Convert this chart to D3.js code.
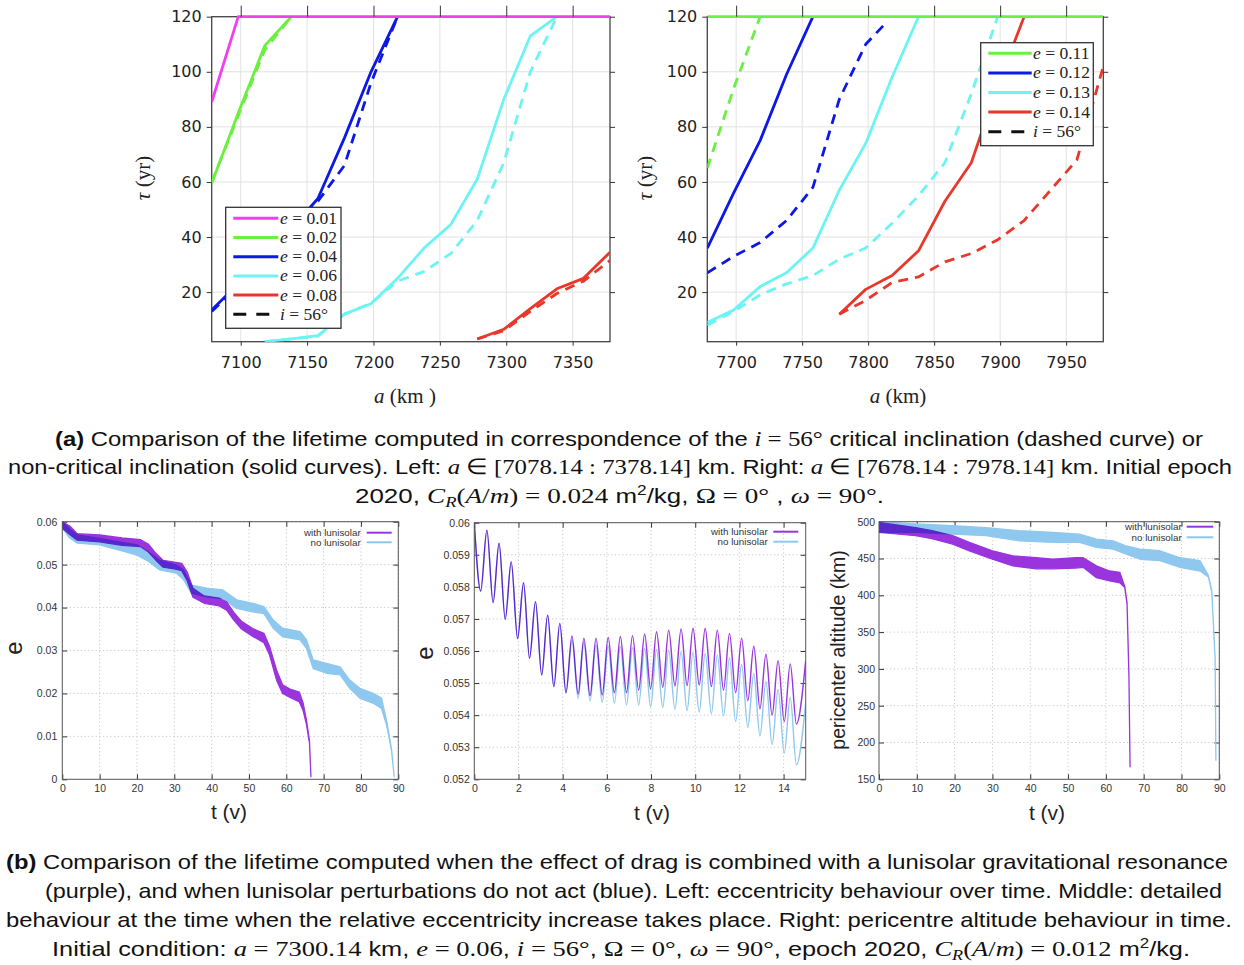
<!DOCTYPE html>
<html>
<head>
<meta charset="utf-8">
<script src="https://cdn.jsdelivr.net/npm/d3@7"></script>
<style>body{margin:0;background:#fff}</style>
</head>
<body>
<div id="chart"></div>
<script>
// ---------- top row : lifetime tau (yr) vs semi-major axis a (km) ----------
var tauTicks = [20, 40, 60, 80, 100, 120];
var aTicksLeft = [7100, 7150, 7200, 7250, 7300, 7350];
var aTicksRight = [7700, 7750, 7800, 7850, 7900, 7950];
var eLeft = ["0.01", "0.02", "0.04", "0.06", "0.08"];
var eRight = ["0.11", "0.12", "0.13", "0.14"];

// [a, tau]  solid = non critical, *_d = i = 56 deg
var e001 = [[7078.14,89],[7098.14,120],[7378.14,120]];
var e002 = [[7078.14,59.5],[7098.14,85],[7118.14,109.5],[7138.14,120]];
var e002_d = [[7078.14,60],[7098.14,84],[7118.14,108],[7138.14,120]];
var e004 = [[7078.14,13.5],[7098.14,23],[7118.14,33],[7138.14,43],[7158.14,54],[7178.14,76],[7198.14,100],[7218.14,120]];
var e004_d = [[7078.14,13],[7098.14,22],[7118.14,32],[7138.14,42],[7158.14,53],[7178.14,66],[7198.14,96],[7218.14,120]];
var e006 = [[7118.14,2],[7138.14,3],[7158.14,4.2],[7178.14,12],[7198.14,15.8],[7218.14,25],[7238.14,36],[7258.14,44.5],[7278.14,61],[7298.14,90],[7318.14,113],[7338.14,120]];
var e006_d = [[7118.14,2],[7138.14,3],[7158.14,4],[7178.14,12],[7198.14,16],[7218.14,24],[7238.14,27.5],[7258.14,34],[7278.14,46],[7298.14,67],[7318.14,100],[7338.14,120]];
var e008 = [[7278.14,3],[7298.14,6.5],[7318.14,14],[7338.14,21.2],[7358.14,25],[7378.14,34.5]];
var e008_d = [[7278.14,3],[7298.14,6],[7318.14,13],[7338.14,19.5],[7358.14,24],[7378.14,31.5]];

var e011 = [[7678.14,120],[7978.14,120]];
var e011_d = [[7678.14,65],[7698.14,94],[7718.14,120]];
var e012 = [[7678.14,36],[7698.14,56],[7718.14,75],[7738.14,99],[7758.14,120]];
var e012_d = [[7678.14,27],[7698.14,33],[7718.14,38],[7738.14,46],[7758.14,58],[7778.14,90],[7798.14,110],[7813,117.5]];
var e013 = [[7678.14,9],[7698.14,13.5],[7718.14,22],[7738.14,27],[7758.14,36],[7778.14,57],[7798.14,74],[7818.14,98],[7838.14,120]];
var e013_d = [[7678.14,8],[7698.14,13],[7718.14,19],[7738.14,23],[7758.14,26],[7778.14,32],[7798.14,36],[7818.14,45],[7838.14,55],[7858.14,67],[7878.14,92],[7898.14,120]];
var e014 = [[7778.14,12],[7798.14,21],[7818.14,26],[7838.14,35],[7858.14,53],[7878.14,67],[7898.14,95],[7918.14,120]];
var e014_d = [[7778.14,12],[7798.14,17],[7818.14,23.5],[7838.14,25.5],[7858.14,31],[7878.14,34],[7898.14,39],[7918.14,46],[7938.14,57],[7958.14,68],[7978.14,102]];

// ---------- bottom row ----------
var eTicks = [0, 0.01, 0.02, 0.03, 0.04, 0.05, 0.06];
var eMidTicks = [0.052, 0.053, 0.054, 0.055, 0.056, 0.057, 0.058, 0.059, 0.06];
var altTicks = [150, 200, 250, 300, 350, 400, 450, 500];
var yearTicks = [0, 10, 20, 30, 40, 50, 60, 70, 80, 90];
var yearMidTicks = [0, 2, 4, 6, 8, 10, 12, 14];

// eccentricity band (fast oscillation): [t, low, high]
var eccLuni = [[0,.0585,.0600],[2,.0570,.0590],[4,.0557,.0572],[10,.0553,.0569],[16,.0545,.0562],[21,.0542,.0558],[23,.0530,.0548],[25,.0511,.0527],[27,.0494,.0510],[30,.0490,.0506],[32,.0486,.0503],[33.5,.0462,.0482],[35,.0424,.0445],[38,.0410,.0427],[42,.0404,.0422],[44,.0394,.0413],[46,.0370,.0388],[48,.0350,.0368],[51,.0333,.0351],[54,.0318,.0340],[55.5,.0290,.0310],[57.4,.0231,.0254],[59,.0200,.0220],[61,.0191,.0210],[63.5,.0180,.0203],[64.5,.0160,.0178],[65.4,.0128,.0138],[66.2,.0085,.0090],[66.6,.0006,.0006]];
var eccNoLuni = [[0,.0585,.0600],[2,.0562,.0583],[4,.0550,.0569],[10,.0546,.0561],[16,.0532,.0552],[20,.0522,.0546],[23,.0508,.0530],[26,.0488,.0511],[30.6,.0480,.0499],[32.4,.0466,.0488],[34.6,.0433,.0452],[38.7,.0425,.0445],[43,.0421,.0441],[46.7,.0398,.0418],[51,.0390,.0410],[54,.0386,.0402],[56.5,.0352,.0371],[59,.0332,.0352],[63.7,.0325,.0344],[65.4,.0305,.0325],[67.2,.0258,.0278],[70.8,.0247,.0270],[74.4,.0243,.0262],[77,.0212,.0231],[79.7,.0189,.0212],[83.3,.0177,.0200],[85.5,.0165,.0189],[86.9,.0125,.0135],[88.2,.0066,.0070],[88.9,.0006,.0006]];

// detail: extrema of e over the first 15 years
var tMid = [0,0.29,0.57,0.85,1.12,1.40,1.67,1.96,2.23,2.50,2.77,3.05,3.32,3.60,3.87,4.15,4.42,4.70,4.96,5.24,5.51,5.79,6.06,6.34,6.61,6.89,7.16,7.44,7.71,7.98,8.25,8.53,8.80,9.08,9.36,9.63,9.90,10.18,10.45,10.73,11.00,11.28,11.55,11.83,12.10,12.38,12.65,12.93,13.20,13.48,13.75,14.03,14.30,14.58,15.00];
var eMidLuni = [.06000,.05787,.05977,.05751,.05936,.05699,.05878,.05639,.05813,.05577,.05754,.05525,.05712,.05489,.05686,.05470,.05647,.05466,.05640,.05461,.05640,.05463,.05642,.05470,.05645,.05470,.05648,.05478,.05653,.05482,.05660,.05487,.05665,.05491,.05669,.05492,.05671,.05494,.05671,.05489,.05665,.05478,.05655,.05470,.05640,.05445,.05615,.05420,.05590,.05400,.05570,.05380,.05560,.05372,.05570];
var eMidNoLuni = [.06000,.05787,.05977,.05751,.05936,.05699,.05878,.05639,.05813,.05577,.05754,.05525,.05712,.05489,.05686,.05468,.05634,.05452,.05627,.05444,.05619,.05440,.05616,.05437,.05614,.05432,.05610,.05432,.05608,.05426,.05605,.05424,.05603,.05418,.05598,.05414,.05595,.05410,.05592,.05405,.05588,.05398,.05578,.05380,.05558,.05362,.05530,.05335,.05505,.05308,.05480,.05282,.05455,.05245,.05440];

// pericenter altitude band: [t, low, high]
var altLuni = [[0,485.5,499],[9.7,481,492],[14,477,488],[19.5,469.5,481],[23.9,460.5,472],[30,449,460.5],[35.4,440,453.6],[41.6,436,451],[46,436,449],[52,437,451],[54,438,451],[57.5,424,440],[61,419.5,433],[63.7,417,431],[65,410.5,412],[65.6,388,390],[66.1,290,291],[66.4,167,167]];
var altNoLuni = [[0,485.5,500],[9.7,485.5,497],[19.5,483,494.5],[28.3,481,492],[37.1,474,487.7],[46,472,485.5],[53,472,483],[57.5,465,476.4],[61.9,462.7,474],[65.4,456,467],[69,449,462.7],[74.3,447,460.5],[79.6,438,451],[84.9,433,447],[87.1,425,427],[88,405,407],[88.9,313,314],[89.1,176,176]];

var cMag = "#ef3fef", cGreen = "#6af03e", cBlue = "#0c18e4", cCyan = "#6cf3f3", cRed = "#e8372b";
var cPurple = "#9a34dc", cSky = "#8ec8ee";

var svg = d3.select("#chart").append("svg").attr("width", 1244).attr("height", 965);
svg.append("rect").attr("width", 1244).attr("height", 965).attr("fill", "#fff");

var clipN = 0;
function clip(b, pad) {
    var id = "clip" + (clipN++);
    pad = pad || 0;
    svg.append("clipPath").attr("id", id).append("rect")
        .attr("x", b.x0).attr("y", b.y0 - pad).attr("width", b.x1 - b.x0).attr("height", b.y1 - b.y0 + pad);
    return "url(#" + id + ")";
}

function styleAxis(ax, font, size, color) {
    ax.select(".domain").remove();
    ax.selectAll("line").attr("stroke", "#333");
    ax.selectAll("text").attr("font-family", font).attr("font-size", size).attr("fill", color);
}

// ---------- top panels ----------
function topPanel(b, dom, xt, series, leg, xlab, ylabPos) {
    var x = d3.scaleLinear().domain(dom).range([b.x0, b.x1]);
    var y = d3.scaleLinear().domain([2, 120]).range([b.y1, b.y0]);
    var g = svg.append("g");

    g.selectAll(".gx").data(xt).join("line").attr("class", "gx")
        .attr("x1", function(d){return x(d);}).attr("x2", function(d){return x(d);})
        .attr("y1", b.y0).attr("y2", b.y1).attr("stroke", "#e2e2e2");
    g.selectAll(".gy").data(tauTicks).join("line").attr("class", "gy")
        .attr("x1", b.x0).attr("x2", b.x1)
        .attr("y1", function(d){return y(d);}).attr("y2", function(d){return y(d);})
        .attr("stroke", "#e2e2e2");

    g.append("rect").attr("x", b.x0).attr("y", b.y0).attr("width", b.x1 - b.x0).attr("height", b.y1 - b.y0)
        .attr("fill", "none").attr("stroke", "#444").attr("stroke-width", 1.3);

    var line = d3.line().x(function(d){return x(d[0]);}).y(function(d){return y(d[1]);});
    g.append("g").attr("clip-path", clip(b, 3)).selectAll("path").data(series).join("path")
        .attr("d", function(d){return line(d.pts);})
        .attr("fill", "none").attr("stroke", function(d){return d.color;})
        .attr("stroke-width", 2.8).attr("stroke-linejoin", "round")
        .attr("stroke-dasharray", function(d){return d.dash ? "10,7" : null;});

    var font = "DejaVu Sans, sans-serif";
    var axb = g.append("g").attr("transform", "translate(0," + b.y1 + ")")
        .call(d3.axisBottom(x).tickValues(xt).tickSize(4).tickPadding(11).tickFormat(d3.format("d")));
    styleAxis(axb, font, 16, "#222");
    var axl = g.append("g").attr("transform", "translate(" + b.x0 + ",0)")
        .call(d3.axisLeft(y).tickValues(tauTicks).tickSize(5).tickPadding(5));
    styleAxis(axl, font, 16, "#222");
    var axt = g.append("g").attr("transform", "translate(0," + b.y0 + ")")
        .call(d3.axisTop(x).tickValues(xt).tickSize(11).tickFormat(""));
    styleAxis(axt, font, 16, "#222");
    var axr = g.append("g").attr("transform", "translate(" + b.x1 + ",0)")
        .call(d3.axisRight(y).tickValues(tauTicks).tickSize(5).tickFormat(""));
    styleAxis(axr, font, 16, "#222");

    // axis titles
    var xt1 = g.append("text").attr("x", xlab.x).attr("y", xlab.y).attr("text-anchor", "middle")
        .attr("font-family", "Liberation Serif, serif").attr("font-size", 21).attr("fill", "#222");
    xt1.append("tspan").attr("font-style", "italic").text("a");
    xt1.append("tspan").text(xlab.t);
    var yt1 = g.append("text").attr("transform", "translate(" + ylabPos[0] + "," + ylabPos[1] + ") rotate(-90)")
        .attr("text-anchor", "middle").attr("font-family", "Liberation Serif, serif")
        .attr("font-size", 21).attr("fill", "#222");
    yt1.append("tspan").attr("font-style", "italic").text("τ");
    yt1.append("tspan").text(" (yr)");

    // legend
    g.append("rect").attr("x", leg.x0).attr("y", leg.y0).attr("width", leg.x1 - leg.x0).attr("height", leg.y1 - leg.y0)
        .attr("fill", "#fff").attr("stroke", "#333").attr("stroke-width", 1.3);
    leg.rows.forEach(function(r, i) {
        var yy = leg.ry + i * leg.dy;
        g.append("line").attr("x1", leg.sx0).attr("x2", leg.sx1).attr("y1", yy).attr("y2", yy)
            .attr("stroke", r.color).attr("stroke-width", 3)
            .attr("stroke-dasharray", r.dash ? "13,10" : null);
        var t = g.append("text").attr("x", leg.tx).attr("y", yy + 5.5)
            .attr("font-family", "Liberation Serif, serif").attr("font-size", 17.5).attr("fill", "#222");
        t.append("tspan").attr("font-style", "italic").text(r.sym);
        t.append("tspan").text(" = " + r.val);
    });
}

topPanel({x0: 211.7, x1: 610, y0: 16.7, y1: 341.7}, [7078.14, 7378.14], aTicksLeft,
    [{pts: e008_d, color: cRed, dash: true}, {pts: e008, color: cRed},
     {pts: e006_d, color: cCyan, dash: true}, {pts: e006, color: cCyan},
     {pts: e004_d, color: cBlue, dash: true}, {pts: e004, color: cBlue},
     {pts: e002_d, color: cGreen, dash: true}, {pts: e002, color: cGreen},
     {pts: e001, color: cMag}],
    {x0: 225.7, y0: 207.3, x1: 341, y1: 328.3, ry: 218.3, dy: 19.2, sx0: 233.3, sx1: 278.3, tx: 280,
     rows: [{color: cMag, sym: "e", val: eLeft[0]}, {color: cGreen, sym: "e", val: eLeft[1]},
            {color: cBlue, sym: "e", val: eLeft[2]}, {color: cCyan, sym: "e", val: eLeft[3]},
            {color: cRed, sym: "e", val: eLeft[4]}, {color: "#111", sym: "i", val: "56°", dash: true}]},
    {x: 405, y: 403, t: " (km )"}, [150, 178]);

topPanel({x0: 707.3, x1: 1103.3, y0: 16.7, y1: 341.7}, [7678.14, 7978.14], aTicksRight,
    [{pts: e014_d, color: cRed, dash: true}, {pts: e014, color: cRed},
     {pts: e013_d, color: cCyan, dash: true}, {pts: e013, color: cCyan},
     {pts: e012_d, color: cBlue, dash: true}, {pts: e012, color: cBlue},
     {pts: e011_d, color: cGreen, dash: true}, {pts: e011, color: cGreen}],
    {x0: 980.7, y0: 42.7, x1: 1093.3, y1: 145.7, ry: 53.3, dy: 19.6, sx0: 988.3, sx1: 1031.7, tx: 1033,
     rows: [{color: cGreen, sym: "e", val: eRight[0]}, {color: cBlue, sym: "e", val: eRight[1]},
            {color: cCyan, sym: "e", val: eRight[2]}, {color: cRed, sym: "e", val: eRight[3]},
            {color: "#111", sym: "i", val: "56°", dash: true}]},
    {x: 898, y: 403, t: " (km)"}, [652, 178]);

// ---------- bottom panels ----------
function bottomPanel(b, xDom, xt, yDom, yt, fmt, yPad) {
    var x = d3.scaleLinear().domain(xDom).range([b.x0, b.x1]);
    var y = d3.scaleLinear().domain(yDom).range([b.y1, b.y0]);
    var g = svg.append("g");
    g.selectAll(".gx").data(xt.slice(1)).join("line").attr("class", "gx")
        .attr("x1", function(d){return x(d);}).attr("x2", function(d){return x(d);})
        .attr("y1", b.y0).attr("y2", b.y1).attr("stroke", "#c8c8c8").attr("stroke-dasharray", "1.2,2.5");
    g.selectAll(".gy").data(yt.slice(1)).join("line").attr("class", "gy")
        .attr("x1", b.x0).attr("x2", b.x1)
        .attr("y1", function(d){return y(d);}).attr("y2", function(d){return y(d);})
        .attr("stroke", "#c8c8c8").attr("stroke-dasharray", "1.2,2.5");
    var font = "Liberation Sans, Arial, sans-serif";
    var axb = g.append("g").attr("transform", "translate(0," + b.y1 + ")")
        .call(d3.axisBottom(x).tickValues(xt).tickSize(-5).tickPadding(5));
    styleAxis(axb, font, 10.5, "#333");
    var axl = g.append("g").attr("transform", "translate(" + b.x0 + ",0)")
        .call(d3.axisLeft(y).tickValues(yt).tickSize(-5).tickPadding(yPad).tickFormat(fmt));
    styleAxis(axl, font, 10.5, "#333");
    var axt = g.append("g").attr("transform", "translate(0," + b.y0 + ")")
        .call(d3.axisTop(x).tickValues(xt).tickSize(-5).tickFormat(""));
    styleAxis(axt, font, 10.5, "#333");
    var axr = g.append("g").attr("transform", "translate(" + b.x1 + ",0)")
        .call(d3.axisRight(y).tickValues(yt).tickSize(-5).tickFormat(""));
    styleAxis(axr, font, 10.5, "#333");
    var plot = g.append("g").attr("clip-path", clip(b));
    g.append("rect").attr("x", b.x0).attr("y", b.y0).attr("width", b.x1 - b.x0).attr("height", b.y1 - b.y0)
        .attr("fill", "none").attr("stroke", "#555").attr("stroke-width", 1);
    return {x: x, y: y, g: g, plot: plot};
}

function band(p, data, color, blend) {
    var area = d3.area().x(function(d){return p.x(d[0]);})
        .y0(function(d){return p.y(d[1]);}).y1(function(d){return p.y(d[2]);});
    p.plot.append("path").attr("d", area(data)).attr("fill", color).attr("stroke", color)
        .attr("stroke-width", 1.3).attr("stroke-linejoin", "round")
        .style("mix-blend-mode", blend ? "multiply" : null);
}

function smallLegend(p, xEnd, y1, y2, s0, s1) {
    [["with lunisolar", cPurple, y1], ["no lunisolar", cSky, y2]].forEach(function(r) {
        p.g.append("text").attr("x", xEnd).attr("y", r[2] + 3.3).attr("text-anchor", "end")
            .attr("font-family", "Liberation Sans, Arial, sans-serif").attr("font-size", 9.8)
            .attr("fill", "#333").text(r[0]);
        p.g.append("line").attr("x1", s0).attr("x2", s1).attr("y1", r[2]).attr("y2", r[2])
            .attr("stroke", r[1]).attr("stroke-width", 2);
    });
}

function labels(p, tx, ty, ytext, yx, yy, ysize) {
    p.g.append("text").attr("x", tx).attr("y", ty).attr("text-anchor", "middle")
        .attr("font-family", "Liberation Sans, Arial, sans-serif").attr("font-size", 21)
        .attr("fill", "#222").text("t (v)");
    p.g.append("text").attr("transform", "translate(" + yx + "," + yy + ") rotate(-90)")
        .attr("text-anchor", "middle").attr("font-family", "Liberation Sans, Arial, sans-serif")
        .attr("font-size", ysize).attr("fill", "#222").text(ytext);
}

var f2 = function(d){return String(+d.toFixed(2));};
var f3 = function(d){return String(+d.toFixed(3));};

var pL = bottomPanel({x0: 62.3, x1: 398.3, y0: 521.7, y1: 779.3}, [0, 90], yearTicks, [0, 0.06], eTicks, f2, 5);
band(pL, eccNoLuni, cSky, false);
band(pL, eccLuni, cPurple, true);
smallLegend(pL, 360.7, 532.7, 542.3, 366.7, 391.7);
labels(pL, 229, 819, "e", 22, 648, 24);

var pM = bottomPanel({x0: 474.3, x1: 805.7, y0: 522.7, y1: 779.3}, [0, 15], yearMidTicks, [0.052, 0.06], eMidTicks, f3, 4.5);
var midLine = d3.line().curve(d3.curveMonotoneX)
    .x(function(d){return pM.x(d[0]);}).y(function(d){return pM.y(d[1]);});
pM.plot.append("path").attr("d", midLine(d3.zip(tMid, eMidLuni)))
    .attr("fill", "none").attr("stroke", cPurple).attr("stroke-width", 1.4);
pM.plot.append("path").attr("d", midLine(d3.zip(tMid, eMidNoLuni)))
    .attr("fill", "none").attr("stroke", cSky).attr("stroke-width", 1.4).style("mix-blend-mode", "multiply");
smallLegend(pM, 767.7, 531.7, 541.7, 773.3, 798.3);
labels(pM, 652, 820, "e", 433, 653, 24);

var pR = bottomPanel({x0: 879, x1: 1219.3, y0: 521.7, y1: 779.3}, [0, 90], yearTicks, [150, 500], altTicks, d3.format("d"), 4);
band(pR, altNoLuni, cSky, false);
band(pR, altLuni, cPurple, true);
smallLegend(pR, 1181.7, 526.7, 537.3, 1186.7, 1213.3);
labels(pR, 1047, 820, "pericenter altitude (km)", 845, 650, 19.5);

// ---------- captions ----------
var capSans = "Liberation Sans Narrow, Liberation Sans, Arial, sans-serif";
var capSerif = "Liberation Serif, serif";
var captionLines = [
    {x0: 55, x1: 1203, y: 446, segs: [["b","(a)"],["n"," Comparison of the lifetime computed in correspondence of the "],["m","i"],["r"," = 56°"],["n"," critical inclination (dashed curve) or"]]},
    {x0: 8, x1: 1232, y: 474, segs: [["n","non-critical inclination (solid curves). Left: "],["m","a"],["r"," ∈ [7078.14 : 7378.14]"],["n"," km. Right: "],["m","a"],["r"," ∈ [7678.14 : 7978.14]"],["n"," km. Initial epoch"]]},
    {x0: 355, x1: 884, y: 503, segs: [["n","2020, "],["m","C"],["sub","R"],["r","("],["m","A"],["r","/"],["m","m"],["r",") = 0.024"],["n"," m"],["sup","2"],["n","/kg, "],["r","Ω = 0°"],["n"," , "],["m","ω"],["r"," = 90°"],["n","."]]},
    {x0: 6, x1: 1228, y: 869, segs: [["b","(b)"],["n"," Comparison of the lifetime computed when the effect of drag is combined with a lunisolar gravitational resonance"]]},
    {x0: 45, x1: 1222, y: 898, segs: [["n","(purple), and when lunisolar perturbations do not act (blue). Left: eccentricity behaviour over time. Middle: detailed"]]},
    {x0: 6, x1: 1232, y: 927, segs: [["n","behaviour at the time when the relative eccentricity increase takes place. Right: pericentre altitude behaviour in time."]]},
    {x0: 52, x1: 1190, y: 956, segs: [["n","Initial condition: "],["m","a"],["r"," = 7300.14"],["n"," km, "],["m","e"],["r"," = 0.06"],["n",", "],["m","i"],["r"," = 56°"],["n",", "],["r","Ω = 0°"],["n",", "],["m","ω"],["r"," = 90°"],["n",", epoch 2020, "],["m","C"],["sub","R"],["r","("],["m","A"],["r","/"],["m","m"],["r",") = 0.012"],["n"," m"],["sup","2"],["n","/kg."]]}
];

captionLines.forEach(function(l) {
    var t = svg.append("text").attr("x", l.x0).attr("y", l.y)
        .attr("font-size", 21).attr("fill", "#111").attr("font-family", capSans);
    l.segs.forEach(function(s) {
        var sp = t.append("tspan").text(s[1]);
        if (s[0] === "b") sp.attr("font-weight", "bold");
        if (s[0] === "m") sp.attr("font-family", capSerif).attr("font-style", "italic").attr("font-size", 22);
        if (s[0] === "r") sp.attr("font-family", capSerif).attr("font-size", 22);
        if (s[0] === "sub") sp.attr("font-family", capSerif).attr("font-style", "italic").attr("font-size", 15).attr("baseline-shift", "-4");
        if (s[0] === "sup") sp.attr("font-size", 14).attr("baseline-shift", "8");
    });
    t.attr("textLength", l.x1 - l.x0).attr("lengthAdjust", "spacingAndGlyphs");
});
</script>
</body>
</html>
